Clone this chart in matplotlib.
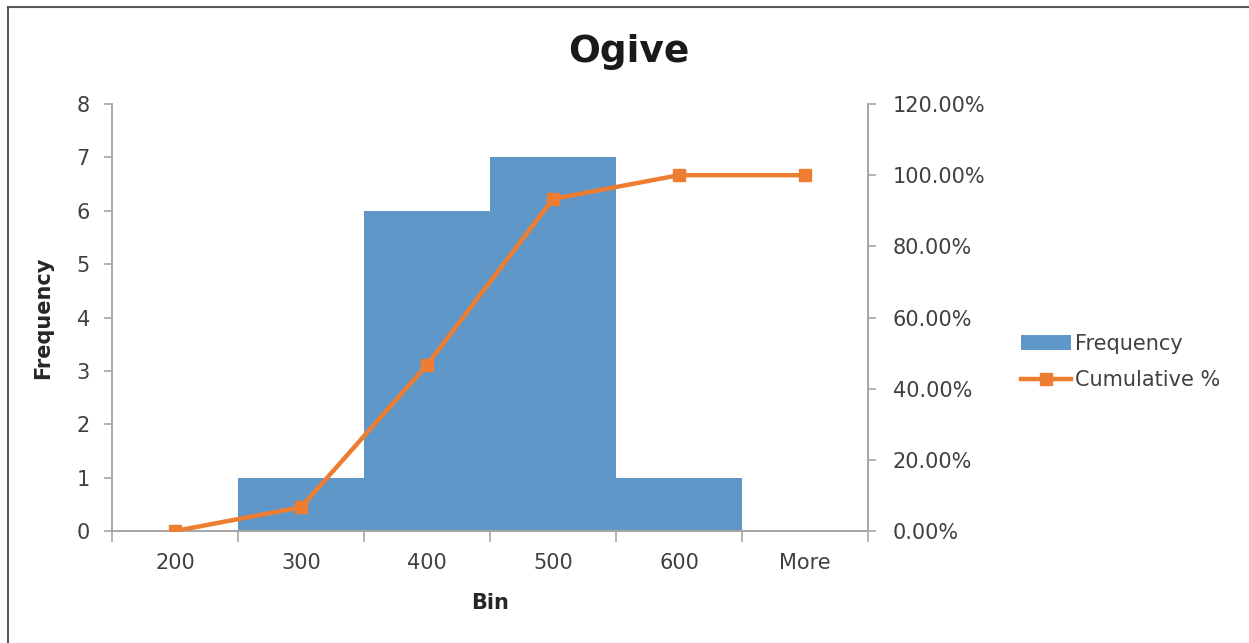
import matplotlib
matplotlib.use("Agg")
import matplotlib.pyplot as plt
from matplotlib.ticker import FuncFormatter
from matplotlib.lines import Line2D
from matplotlib.patches import Patch
import numpy as np

bins = ["200", "300", "400", "500", "600", "More"]
frequency = [0, 1, 6, 7, 1, 0]
cumulative_pct = [0.0, 6.67, 46.67, 93.33, 100.0, 100.0]

plt.rcParams['font.family'] = ['DejaVu Sans']

W, H = 1249, 643
fig = plt.figure(figsize=(W / 100, H / 100), dpi=100)
fig.patch.set_facecolor("white")

left, right = 112 / W, 868 / W
bottom, top = 1 - 531 / H, 1 - 104 / H
ax = fig.add_axes([left, bottom, right - left, top - bottom])
ax2 = ax.twinx()

x = np.arange(len(bins))
bar_color = "#6097C9"
line_color = "#ED7D31"
axis_color = "#A6A6A6"
text_color = "#404040"

ax.bar(x, frequency, width=1.0, color=bar_color, align="center", zorder=2)
ax.set_xlim(-0.5, len(bins) - 0.5)
ax.set_ylim(0, 8)
ax.set_yticks(range(0, 9))
ax.set_xticks(x)
ax.set_xticklabels(bins)
ax.set_xticks(np.arange(-0.5, len(bins), 1.0), minor=True)
ax.tick_params(axis="x", which="major", length=0, pad=16, labelsize=15, colors=text_color)
ax.tick_params(axis="x", which="minor", length=8, color=axis_color, width=1.2)
ax.tick_params(axis="y", length=6, color=axis_color, labelsize=15, labelcolor=text_color, pad=10, width=1.2)

ax2.plot(x, cumulative_pct, color=line_color, lw=3.2, marker="s", markersize=9, zorder=3)
ax2.set_ylim(0, 120)
ax2.set_yticks(range(0, 121, 20))
ax2.yaxis.set_major_formatter(FuncFormatter(lambda v, p: f"{v:.2f}%"))
ax2.tick_params(axis="y", length=6, color=axis_color, labelsize=15, labelcolor=text_color, pad=12, width=1.2)

for a in (ax, ax2):
    a.spines["top"].set_visible(False)
    for s in ("left", "right", "bottom"):
        a.spines[s].set_color(axis_color)
        a.spines[s].set_linewidth(1.2)
ax.set_zorder(1)
ax2.set_zorder(2)
ax2.patch.set_visible(False)

ax.set_xlabel("Bin", fontsize=15, fontweight="bold", color="#262626", labelpad=14)
ax.set_ylabel("Frequency", fontsize=15, fontweight="bold", color="#262626", labelpad=17)

fig.text(629 / W, 1 - 52 / H, "Ogive", fontsize=27, fontweight="bold", color="#1a1a1a",
         ha="center", va="center")

handles = [Patch(facecolor=bar_color, edgecolor="none"),
           Line2D([0], [0], color=line_color, lw=3.2, marker="s", markersize=9)]
fig.legend(handles, ["Frequency", "Cumulative %"], loc="center left",
           bbox_to_anchor=(1002 / W, 1 - 362 / H), frameon=False, fontsize=15,
           handlelength=2.4, handletextpad=0.2, labelspacing=0.8,
           labelcolor=text_color)

# outer frame (left and top edges visible in reference)
fig.add_artist(Line2D([8 / W, 8 / W], [0, 1 - 7 / H], color="#595959", lw=1.5))
fig.add_artist(Line2D([8 / W, 1], [1 - 7 / H, 1 - 7 / H], color="#595959", lw=1.5))

fig.savefig("out.png", dpi=100)
